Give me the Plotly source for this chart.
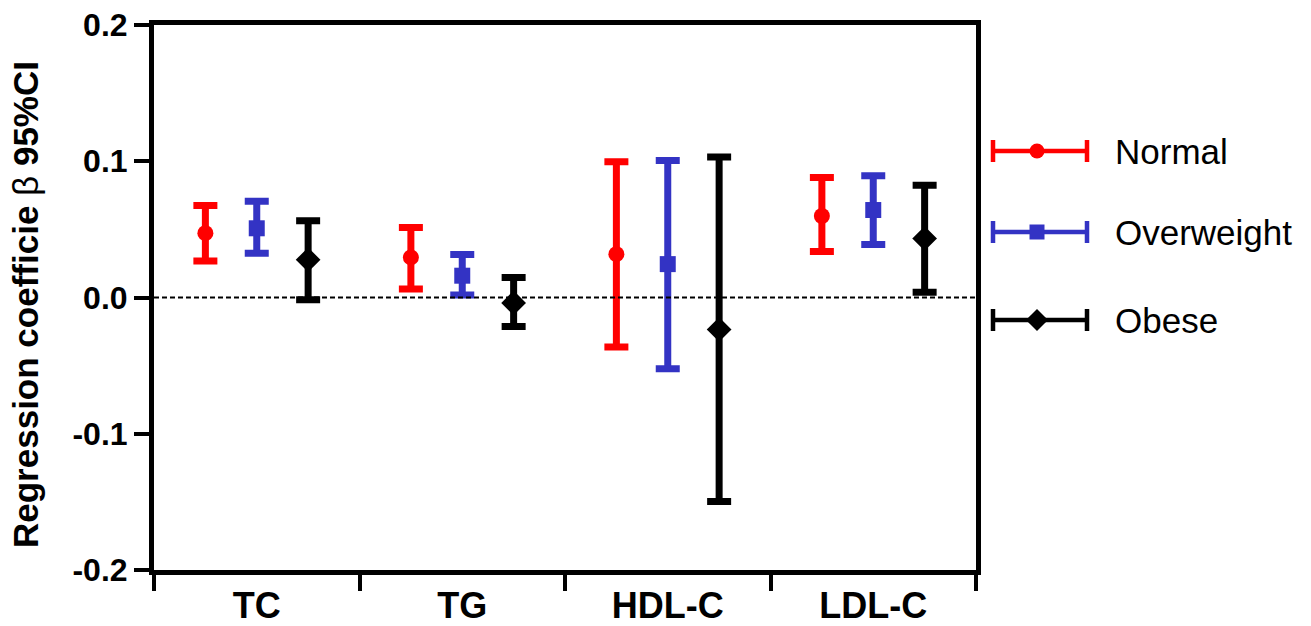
import plotly.graph_objects as go

categories = ["TC", "TG", "HDL-C", "LDL-C"]
groups = ["Normal", "Overweight", "Obese"]

normal_beta = [0.0472, 0.0294, 0.0318, 0.0598]
normal_low = [0.0267, 0.0062, -0.0364, 0.0338]
normal_high = [0.0676, 0.0513, 0.0996, 0.0881]

overweight_beta = [0.0508, 0.0160, 0.0245, 0.0642]
overweight_low = [0.0325, 0.0018, -0.0523, 0.0389]
overweight_high = [0.0706, 0.0316, 0.1005, 0.0893]

obese_beta = [0.0277, -0.0040, -0.0235, 0.0433]
obese_low = [-0.0016, -0.0213, -0.1498, 0.0038]
obese_high = [0.0564, 0.0147, 0.1032, 0.0823]

ytick_vals = [-0.2, -0.1, 0.0, 0.1, 0.2]
ytick_text = ["-0.2", "-0.1", "0.0", "0.1", "0.2"]
y_title = "<b>Regression coefficie</b> β <b>95%CI</b>"

series = [
    (normal_beta, normal_low, normal_high),
    (overweight_beta, overweight_low, overweight_high),
    (obese_beta, obese_low, obese_high),
]
colors = ["#FF0000", "#3333C4", "#000000"]
symbols = ["circle", "square", "diamond"]
msizes = [16, 16, 19]
offsets = [-0.25, 0.0, 0.25]

W, H = 1311, 626
ml, mr, mt, mb = 154, 0, 25, 56
pw = W - ml - mr
ph = H - mt - mb

# legend layout (pixel positions)
leg_left = 985
leg_rows = [151, 232, 320]
leg_center = 1040
leg_half = 47
leg_text_x = 1113

fig = go.Figure()

n = len(categories)
for g, (beta, low, high) in enumerate(series):
    xs = [i + 0.5 + offsets[g] for i in range(n)]
    fig.add_trace(go.Scatter(
        x=xs, y=beta, mode="markers", name=groups[g], showlegend=False,
        marker=dict(symbol=symbols[g], size=msizes[g], color=colors[g]),
        error_y=dict(type="data", symmetric=False,
                     array=[h - b for h, b in zip(high, beta)],
                     arrayminus=[b - l for b, l in zip(beta, low)],
                     color=colors[g], thickness=7, width=12),
    ))

# custom legend with horizontal error-bar glyphs
for g in range(len(groups)):
    fig.add_trace(go.Scatter(
        x=[leg_center - 3], y=[leg_rows[g]], xaxis="x3", yaxis="y3", mode="markers",
        showlegend=False, hoverinfo="skip", cliponaxis=False,
        marker=dict(symbol=symbols[g], size=[15, 15, 17][g], color=colors[g]),
        error_x=dict(type="data", symmetric=False, array=[leg_half + 3],
                     arrayminus=[leg_half - 3], color=colors[g], thickness=4.5, width=11),
    ))
    fig.add_annotation(x=leg_text_x, y=leg_rows[g], xref="x3", yref="y3", text=groups[g],
                       showarrow=False, xanchor="left", yanchor="middle",
                       font=dict(family="Liberation Sans, Arial", size=35, color="black"))

# y-axis title
fig.add_annotation(x=(25 - ml) / pw, y=(H - mb - 305) / ph, xref="paper", yref="paper",
                   text=y_title, textangle=-90, showarrow=False,
                   xanchor="center", yanchor="middle",
                   font=dict(family="Liberation Sans, Arial", size=35, color="black"))

fig.add_shape(type="line", xref="x domain", yref="y", x0=0, x1=1, y0=0, y1=0,
              line=dict(color="black", width=2, dash="5px,3px"))

fig.update_layout(
    width=W, height=H,
    margin=dict(l=ml, r=mr, t=mt, b=mb, autoexpand=False),
    paper_bgcolor="white", plot_bgcolor="rgba(0,0,0,0)",
    xaxis=dict(
        domain=[0, (976 - ml) / pw], range=[0, n], automargin=False,
        tickvals=[i + 0.5 for i in range(n)], ticktext=categories,
        ticks="", showgrid=False, zeroline=False,
        showline=True, linewidth=5, linecolor="black", mirror=True,
        tickfont=dict(family="Liberation Sans Narrow, Arial Narrow, Liberation Sans", size=36,
                      color="black", weight="bold"),
        minor=dict(tick0=0, dtick=1, ticks="outside", ticklen=16, tickwidth=4,
                   tickcolor="black", showgrid=False),
    ),
    yaxis=dict(
        range=[-0.2, 0.2], tickvals=ytick_vals, ticktext=ytick_text, automargin=False,
        ticks="outside", ticklen=15, tickwidth=4, tickcolor="black",
        showgrid=False, zeroline=False,
        showline=True, linewidth=5, linecolor="black", mirror=True,
        tickfont=dict(family="Liberation Sans, Arial", size=32, color="black", weight="bold"),
    ),
    xaxis3=dict(domain=[(leg_left - ml) / pw, 1], range=[leg_left, W],
                visible=False, anchor="y3"),
    yaxis3=dict(domain=[0, 1], range=[H - mb, mt], visible=False, anchor="x3"),
)

fig.write_html("out.html", config={"displayModeBar": False},
               post_script="document.body.style.margin='0';")
